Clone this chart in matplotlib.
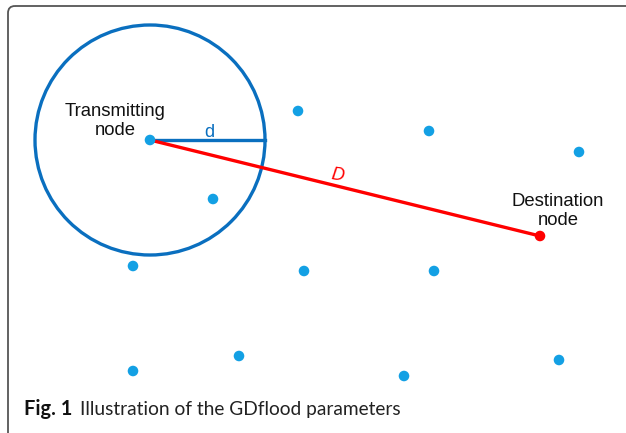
import matplotlib
matplotlib.use("Agg")
import matplotlib.pyplot as plt
from matplotlib.patches import Circle, FancyBboxPatch
import numpy as np

# Node positions (pixel-like coordinates, y downwards)
node_x = [298, 429, 579, 213, 133, 304, 434, 133, 239, 404, 559]
node_y = [111, 131, 152, 199, 266, 271, 271, 371, 356, 376, 360]
tx_node = (150, 140)
dest_node = (540, 236)
radius_d = 115

caption_bold = "Fig. 1"
caption_text = "Illustration of the GDflood parameters"

W, H = 626, 433
fig = plt.figure(figsize=(W / 100, H / 100), dpi=100)
ax = fig.add_axes([0, 0, 1, 1])
ax.set_xlim(0, W)
ax.set_ylim(H, 0)
ax.axis("off")

blue_dark = "#0a6fbf"
blue_dot = "#13a0e4"
red = "#ff0000"

# frame
frame = FancyBboxPatch((8, 6), W + 40, H + 40, boxstyle="round,pad=0,rounding_size=7",
                       fill=False, edgecolor="#555555", linewidth=1.3, zorder=1)
ax.add_patch(frame)

# circle
ax.add_patch(Circle(tx_node, radius_d, fill=False, edgecolor=blue_dark, linewidth=2.4, zorder=2))
# radius line d
ax.plot([tx_node[0], tx_node[0] + radius_d], [tx_node[1], tx_node[1]], color=blue_dark, lw=2.4, zorder=3)
ax.text(209, 137, "d", color=blue_dark, fontsize=13,
        ha="center", va="baseline", family="Liberation Sans", zorder=5)

# line D
ax.plot([tx_node[0], dest_node[0]], [tx_node[1], dest_node[1]], color=red, lw=2.4, zorder=4)
ang = -np.degrees(np.arctan2(dest_node[1] - tx_node[1], dest_node[0] - tx_node[0]))
ax.text(338, 175, "D", color=red, fontsize=13, style="italic", ha="center", va="center",
        rotation=ang * 0.6, family="Liberation Sans", zorder=5)

# nodes
ax.scatter(node_x, node_y, s=58, color=blue_dot, edgecolors="none", zorder=6)
ax.scatter([tx_node[0]], [tx_node[1]], s=58, color=blue_dot, edgecolors="none", zorder=6)
ax.scatter([dest_node[0]], [dest_node[1]], s=58, color=red, edgecolors="none", zorder=6)

# labels
ax.text(115, 121, "Transmitting\nnode", fontsize=13.3, ha="center", va="center",
        linespacing=1.2, family="Liberation Sans", color="#111111", zorder=5)
ax.text(558, 211, "Destination\nnode", fontsize=13.3, ha="center", va="center",
        linespacing=1.2, family="Liberation Sans", color="#111111", zorder=5)

# caption (fit widths to the reference layout)
fig.canvas.draw()


def fitted_text(x, y, s, target_w, **kw):
    t = ax.text(x, y, s, fontsize=12, ha="left", va="baseline", **kw)
    fig.canvas.draw()
    bb = t.get_window_extent()
    w = bb.x1 - bb.x0
    t.set_fontsize(12 * target_w / w)
    fig.canvas.draw()
    return t


t1 = fitted_text(24, 415, caption_bold, 48, fontweight="bold", family="Lato", color="#111111")
t2 = fitted_text(80, 415, caption_text, 321, family="Lato", color="#222222")

fig.savefig("out.png", dpi=100)
